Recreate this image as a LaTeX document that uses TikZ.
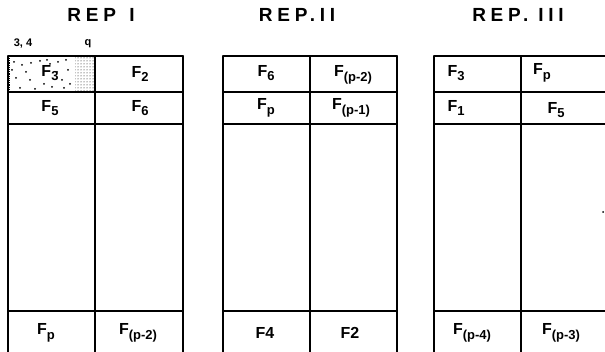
\documentclass[tikz,border=0pt]{standalone}
\usepackage{amsmath}
\usepackage{fontspec}
\setmainfont{Liberation Sans}
\newfontfamily\titlefont[LetterSpace=25]{Liberation Sans}
\usepackage{tikz}
\usetikzlibrary{positioning,patterns}

\newcommand{\lowidx}[1]{\raisebox{-0.3em}{\fontsize{13}{14}\selectfont #1}}

\tikzset{
	grid/.style={line width=1.5pt,line cap=round},
	cell/.style={inner sep=1pt,font=\fontsize{16}{18}\selectfont\bfseries},
	title/.style={inner sep=1pt,font=\titlefont\fontsize{19}{21}\selectfont\bfseries},
	note/.style={inner sep=1pt,font=\fontsize{11}{12}\selectfont\bfseries}
}

\begin{document}
\begin{tikzpicture}[x=1pt,y=-1pt]
		
		\clip (0,0) rectangle (605,352);
		\useasboundingbox (0,0) rectangle (605,352);
		\fill[white] (0,0) rectangle (605,352);
		
		% stippled cell of rep I
		\fill[pattern=dots,pattern color=black]
		(75,57) rectangle (94,91);
		
		\foreach \px/\py in {14/62,22/65,31/63,40/61,50/64,58/62,66/60,
			16/78,26/72,44/84,62/80,68/70,20/88,35/89,52/87,64/88,
			12/70,30/80,70/84,47/60,57/72}
		\fill (\px,\py) circle (1pt);
		
		\draw[densely dotted,line width=1.2pt]
		(9,58) -- (9,91);
		
		% grids
		\draw[grid] (8,56) -- (183,56);
		\draw[grid] (8,56) -- (8,360);
		\draw[grid] (95,56) -- (95,360);
		\draw[grid] (183,56) -- (183,360);
		\draw[grid] (8,92) -- (183,92);
		\draw[grid] (8,124) -- (183,124);
		\draw[grid] (8,311) -- (183,311);
		
		\draw[grid] (223,56) -- (397,56);
		\draw[grid] (223,56) -- (223,360);
		\draw[grid] (310,56) -- (310,360);
		\draw[grid] (397,56) -- (397,360);
		\draw[grid] (223,92) -- (397,92);
		\draw[grid] (223,124) -- (397,124);
		\draw[grid] (223,311) -- (397,311);
		
		\draw[grid] (434,56) -- (608,56);
		\draw[grid] (434,56) -- (434,360);
		\draw[grid] (521,56) -- (521,360);
		\draw[grid] (434,92) -- (608,92);
		\draw[grid] (434,124) -- (608,124);
		\draw[grid] (434,311) -- (608,311);
		\fill (603,212) circle (1pt);
		
		% titles
		\node[title] (repA) at (101,15) {REP\hspace{0.7em}I};
		\node[title] (repB) at (297,15) {REP.II};
		\node[title] (repC) at (518,15) {REP. III};
		
		\node[note] (markA) at (23,44) {3, 4};
		\node[note] (markB) at (88,44) {q};
		
		% rep I
		\node[cell] (aF) at (50,73) {F\lowidx{3}};
		\node[cell] (aG) at (140,74) {F\lowidx{2}};
		\node[cell] (aH) at (50,108) {F\lowidx{5}};
		\node[cell] (aK) at (140,108) {F\lowidx{6}};
		\node[cell] (aM) at (46,333) {F\lowidx{p}};
		\node[cell] (aN) at (138,333) {F\lowidx{(p-2)}};
		
		% rep II
		\node[cell] (bF) at (266,73) {F\lowidx{6}};
		\node[cell] (bG) at (353,75) {F\lowidx{(p-2)}};
		\node[cell] (bH) at (266,108) {F\lowidx{p}};
		\node[cell] (bK) at (351,108) {F\lowidx{(p-1)}};
		\node[cell] (bM) at (265,333) {F4};
		\node[cell] (bN) at (350,333) {F2};
		
		% rep III
		\node[cell] (cF) at (456,73) {F\lowidx{3}};
		\node[cell] (cG) at (542,73) {F\lowidx{p}};
		\node[cell] (cH) at (456,108) {F\lowidx{1}};
		\node[cell] (cK) at (556,110) {F\lowidx{5}};
		\node[cell] (cM) at (472,333) {F\lowidx{(p-4)}};
		\node[cell] (cN) at (561,333) {F\lowidx{(p-3)}};
		
	\end{tikzpicture}
\end{document}
